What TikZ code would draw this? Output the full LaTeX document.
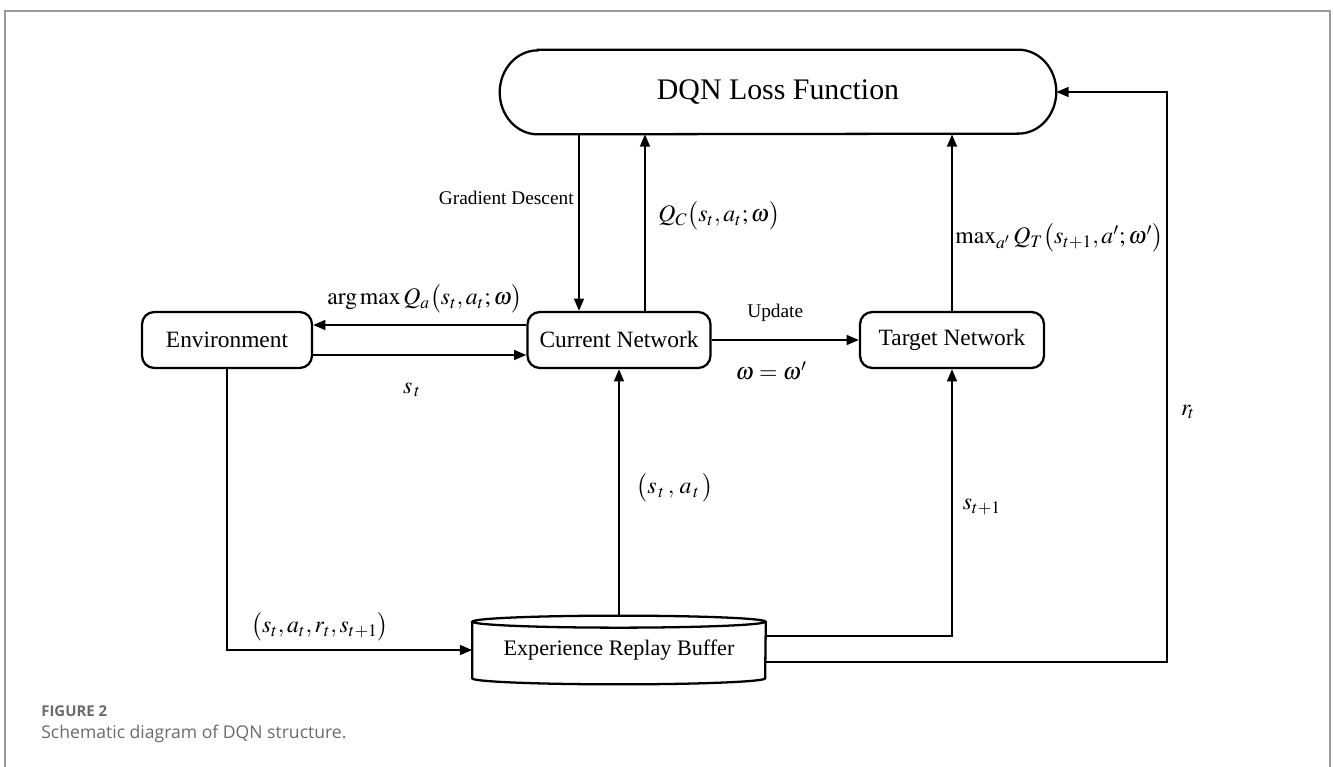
\documentclass[tikz,border=0pt]{standalone}
\usepackage{mathptmx}
\usepackage{fontspec}
\setmainfont{Liberation Serif}
\newfontfamily\capfont{Open Sans}
\usetikzlibrary{arrows.meta,positioning,calc}

\begin{document}
\begin{tikzpicture}[x=0.02cm, y=-0.02cm, >={Triangle[length=7pt,width=5.6pt]},
    netbox/.style={draw, line width=1.3pt, rounded corners=7pt, minimum height=1.12cm, inner sep=2pt, font=\fontsize{13.3}{15}\selectfont},
    outline/.style={line width=1.3pt},
    flow/.style={->, line width=1.15pt},
    lbl/.style={inner sep=0pt, font=\fontsize{13.5}{15}\selectfont},
    txt/.style={inner sep=0pt, font=\fontsize{11}{13}\selectfont},
    caption/.style={inner sep=0pt, anchor=west, text=black!58}]
    \useasboundingbox[fill=white] (0,0) rectangle (1333,767);
    \draw[black!40, line width=0.8pt] (5,767) -- (5,11) -- (1330,11) -- (1330,767);

    % Blocks
    \node[minimum width=11.12cm, minimum height=1.68cm, font=\fontsize{17}{20}\selectfont] (loss) at (778,92) {DQN Loss Function};
    \node[netbox, minimum width=3.4cm] (env) at (227,340) {Environment};
    \node[netbox, minimum width=3.66cm] (current) at (619,340) {Current Network};
    \node[netbox, minimum width=3.68cm] (target) at (952,340) {Target Network};
    \node[minimum width=5.86cm, minimum height=1.36cm, font=\fontsize{12.6}{15}\selectfont] (buffer) at (619,650) {Experience Replay Buffer};

    % Outlines of the loss and buffer shapes
    \draw[outline] ($(loss.north west)+(38,0)$) -- ($(loss.north east)+(-38,0)$)
        arc[start angle=90, end angle=-90, x radius=0.76cm, y radius=0.84cm]
        -- ($(loss.south west)+(38,0)$)
        arc[start angle=270, end angle=90, x radius=0.76cm, y radius=0.84cm] -- cycle;
    \draw[outline] ($(buffer.north west)+(0,6)$) -- ($(buffer.south west)+(0,-6)$)
        arc[start angle=180, end angle=360, x radius=2.93cm, y radius=0.12cm]
        -- ($(buffer.north east)+(0,6)$);
    \draw[outline] ($(buffer.north)+(0,6)$) ellipse[x radius=2.93cm, y radius=0.12cm];

    % Arrows
    \draw[flow] ([xshift=-0.8cm]current.north |- loss.south) -- ([xshift=-0.8cm]current.north);
    \draw[flow] ([xshift=0.52cm]current.north) -- ([xshift=0.52cm]current.north |- loss.south);
    \draw[flow] (target.north) -- (target.north |- loss.south);
    \draw[flow] ([yshift=0.3cm]current.west) -- ([yshift=0.3cm]env.east);
    \draw[flow] ([yshift=-0.3cm]env.east) -- ([yshift=-0.3cm]current.west);
    \draw[flow] (current.east) -- node[txt, yshift=0.54cm, xshift=-0.2cm] (upd) {Update}
        node[lbl, yshift=-0.62cm, xshift=-0.28cm] (same) {$\omega=\omega'$} (target.west);
    \draw[flow] (env.south) |- (buffer.west);
    \draw[flow] (buffer.north) -- (current.south);
    \draw[flow] ($(buffer.east)+(0,-14)$) -| (target.south);
    \coordinate (rtop) at ($(loss.east)+(111,0)$);
    \draw[flow] ($(buffer.east)+(0,12)$) -| (rtop) -- (loss.east);

    % Labels
    \node[txt, anchor=east] (gd) at (574,198) {Gradient Descent};
    \node[lbl, anchor=west] (qc) at (658,216) {$Q_C\bigl(s_t,a_t;\omega\bigr)$};
    \node[lbl, anchor=west] (qt) at (955,238) {$\max\nolimits_{a'} Q_T\bigl(s_{t+1},a';\omega'\bigr)$};
    \node[lbl] (act) at (425,299) {$\arg\max Q_a\bigl(s_t,a_t;\omega\bigr)$};
    \node[lbl] (st) at (412,390) {$s_{\,t}$};
    \node[lbl] (rt) at (1188,412) {$r_{\!t}$};
    \node[lbl] (sa) at (675,488) {$\bigl(s_{\,t}\,,\,a_{\,t}\,\bigr)$};
    \node[lbl] (snext) at (982,507) {$s_{t+1}$};
    \node[lbl] (tuple) at (320,627) {$\bigl(s_t,a_t,r_t,s_{t+1}\bigr)$};

    % Caption
    \node[caption, font=\capfont\bfseries\fontsize{8.5}{10}\selectfont] (figno) at (41,711) {FIGURE 2};
    \node[caption, font=\capfont\fontsize{10}{12}\selectfont] (figtext) at (41,734) {Schematic diagram of DQN structure.};
\end{tikzpicture}
\end{document}
